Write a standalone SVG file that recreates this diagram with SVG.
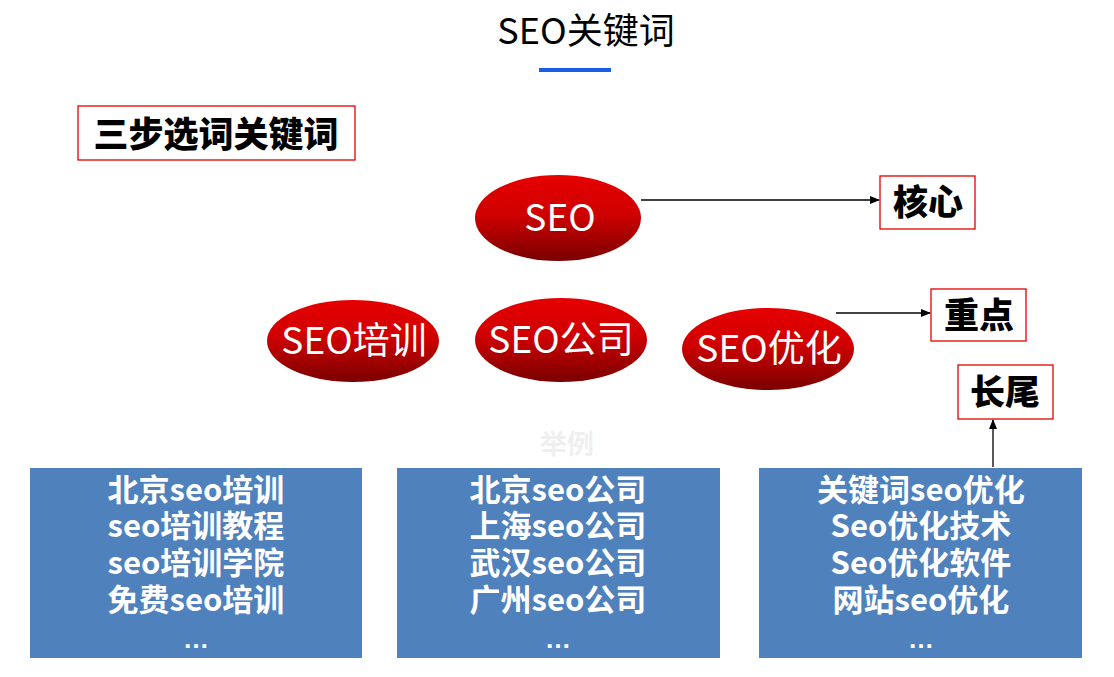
<svg xmlns="http://www.w3.org/2000/svg" width="1114" height="677" viewBox="0 0 1114 677">
<style>
.t{font-family:"Noto Sans CJK SC","Noto Sans",sans-serif}
.lab{font-family:"Noto Sans CJK SC",sans-serif;font-weight:900;font-size:35px;fill:#000;text-anchor:middle}
.rb{fill:#fff;stroke:#e00000;stroke-width:1.3}
.ell{fill:url(#rg)}
.et{font-family:"Noto Sans CJK SC",sans-serif;font-size:37px;fill:#fff;text-anchor:middle}
.bb{fill:#4f81bd}
.bt{font-family:"Noto Sans CJK SC",sans-serif;font-weight:bold;font-size:31px;fill:#fff;text-anchor:middle}
.dots{font-family:"Liberation Sans",sans-serif;font-weight:bold;font-size:26px;fill:#fff;text-anchor:middle}
.ln{stroke:#000;stroke-width:1.3;fill:none;marker-end:url(#ah)}
</style>
<defs>
<linearGradient id="rg" x1="0" y1="0" x2="0" y2="1">
<stop offset="0" stop-color="#e60000"/>
<stop offset="0.45" stop-color="#d00000"/>
<stop offset="1" stop-color="#7a0000"/>
</linearGradient>
<marker id="ah" markerWidth="10" markerHeight="8" refX="9" refY="4" orient="auto" markerUnits="userSpaceOnUse">
<path d="M0,0 L10,4 L0,8 z" fill="#000"/>
</marker>
</defs>
<rect width="1114" height="677" fill="#fff"/>
<g id="title">
<text x="586" y="44" class="t" font-size="36" text-anchor="middle" fill="#000">SEO关键词</text>
<rect x="539" y="68" width="72" height="4" fill="#1a5ee8"/>
</g>
<g id="heading">
<rect x="78" y="106" width="277" height="54" class="rb"/>
<text x="216" y="147" class="lab" font-size="36">三步选词关键词</text>
</g>
<g id="connectors">
<line x1="641" y1="200" x2="879" y2="200" class="ln"/>
<line x1="836" y1="313" x2="930" y2="313" class="ln"/>
<line x1="993" y1="467" x2="993" y2="420" class="ln"/>
</g>
<g id="seo">
<ellipse cx="558" cy="218" rx="83" ry="43" class="ell"/>
<text x="560" y="231" class="et">SEO</text>
</g>
<g id="core">
<rect x="880" y="176" width="95" height="53" class="rb"/>
<text x="928" y="215" class="lab">核心</text>
</g>
<g id="seo-training">
<ellipse cx="353" cy="341" rx="86" ry="41" class="ell"/>
<text x="354" y="354" class="et">SEO培训</text>
</g>
<g id="seo-company">
<ellipse cx="561" cy="340" rx="86" ry="42" class="ell"/>
<text x="561" y="353" class="et">SEO公司</text>
</g>
<g id="seo-optimize">
<ellipse cx="768" cy="349" rx="86" ry="41" class="ell"/>
<text x="769" y="362" class="et">SEO优化</text>
</g>
<g id="focus">
<rect x="931" y="289" width="95" height="52" class="rb"/>
<text x="979" y="328" class="lab">重点</text>
</g>
<g id="longtail">
<rect x="958" y="365" width="95" height="54" class="rb"/>
<text x="1005" y="405" class="lab">长尾</text>
</g>
<g id="example">
<text x="567" y="454" class="t" font-size="27" font-weight="bold" text-anchor="middle" fill="#efefef">举例</text>
</g>
<g id="box1">
<rect x="30" y="468" width="332" height="190" class="bb"/>
<text x="196" y="501" class="bt">北京seo培训</text>
<text x="196" y="537" class="bt">seo培训教程</text>
<text x="196" y="574" class="bt">seo培训学院</text>
<text x="196" y="611" class="bt">免费seo培训</text>
<text x="196" y="648" class="dots">…</text>
</g>
<g id="box2">
<rect x="397" y="468" width="323" height="190" class="bb"/>
<text x="558" y="501" class="bt">北京seo公司</text>
<text x="558" y="537" class="bt">上海seo公司</text>
<text x="558" y="574" class="bt">武汉seo公司</text>
<text x="558" y="611" class="bt">广州seo公司</text>
<text x="558" y="648" class="dots">…</text>
</g>
<g id="box3">
<rect x="759" y="468" width="323" height="190" class="bb"/>
<text x="921" y="501" class="bt">关键词seo优化</text>
<text x="921" y="537" class="bt">Seo优化技术</text>
<text x="921" y="574" class="bt">Seo优化软件</text>
<text x="921" y="611" class="bt">网站seo优化</text>
<text x="921" y="648" class="dots">…</text>
</g>
</svg>
